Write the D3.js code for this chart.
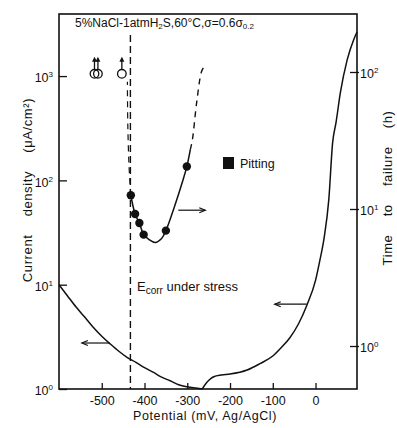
<!DOCTYPE html>
<html>
<head>
<meta charset="utf-8">
<script src="https://cdn.jsdelivr.net/npm/d3@7"></script>
<style>
  body { margin: 0; background: #fff; }
  text { font-family: "Liberation Sans", Arial, sans-serif; fill: #111; }
</style>
</head>
<body>
<div class="canvas"></div>
<script>
// cathodic branch, current density (left axis)
const cathodicPot = [-600, -580, -560, -540, -520, -500, -480, -460, -440, -420, -400, -380, -360, -340, -320, -300, -280, -265];
const cathodicCur = [10, 7.8, 6.1, 4.9, 3.9, 3.2, 2.7, 2.3, 2.0, 1.8, 1.6, 1.45, 1.3, 1.2, 1.1, 1.05, 1.02, 1.0];

// anodic branch, current density (left axis)
const anodicPot = [-265, -255, -245, -238, -220, -200, -160, -130, -100, -80, -60, -40, -20, 0, 10, 20, 31, 40, 48, 58, 74, 89, 97];
const anodicCur = [1.0, 1.15, 1.26, 1.31, 1.36, 1.39, 1.52, 1.75, 2.07, 2.5, 3.1, 4.2, 6.4, 11, 17, 28, 65, 230, 360, 690, 1430, 2220, 2650];

// time to failure, pitting (right axis)
const pitPot = [-432, -422, -412, -402, -350, -301];
const pitTTF = [12.6, 9.2, 7.9, 6.5, 6.95, 20.4];
const fitPot = [-432, -422, -412, -402, -390, -375, -360, -350, -330, -310, -301, -293];
const fitTTF = [12.6, 9.2, 7.9, 6.5, 6.0, 5.7, 6.1, 6.95, 10.4, 16.3, 20.4, 27];
const extHighPot = [-293, -288, -278, -267, -262];
const extHighTTF = [27, 32, 60, 100, 108];
const extLowPot = [-432, -436, -439, -440];
const extLowTTF = [12.6, 20, 40, 85];

// no failure (runouts)
const runoutPot = [-517, -509, -453];
const runoutTTF = [97, 97, 97];

const ecorr = -433;
const xTicks = [-500, -400, -300, -200, -100, 0];
const leftTicks = [1, 10, 100, 1000];
const rightTicks = [1, 10, 100];

const frame = { left: 59, right: 357, top: 14, bottom: 389 };

const svg = d3.select('.canvas')
  .append('svg')
  .attr('width', 397)
  .attr('height', 428);

const x = d3.scaleLinear().domain([-600, 97]).range([frame.left, frame.right]);
const yL = d3.scaleLog().domain([1, 3936]).range([frame.bottom, frame.top]);
const yR = d3.scaleLog().domain([0.4855, 265]).range([frame.bottom, frame.top]);

const zip = (a, b) => a.map((v, i) => [v, b[i]]);

// frame
svg.append('rect')
  .attr('x', frame.left)
  .attr('y', frame.top)
  .attr('width', frame.right - frame.left)
  .attr('height', frame.bottom - frame.top)
  .attr('fill', 'none')
  .attr('stroke', '#111')
  .attr('stroke-width', 1.6);

// superscript tick labels
const powLabel = (sel, size) => {
  sel.text(null);
  sel.append('tspan').text('10');
  sel.append('tspan')
    .attr('dy', -5)
    .attr('font-size', size)
    .text(d => Math.round(Math.log10(d)));
};

// axes
const xAxis = d3.axisBottom(x)
  .tickValues(xTicks)
  .tickFormat(d => String(d))
  .tickSize(-6)
  .tickPadding(7);
const xAxisGroup = svg.append('g')
  .attr('transform', `translate(0, ${frame.bottom})`)
  .call(xAxis);
xAxisGroup.selectAll('text')
  .attr('font-size', 12.5)
  .attr('font-family', '"Liberation Sans", Arial, sans-serif');

const yAxisL = d3.axisLeft(yL).tickValues(leftTicks).tickSize(-8).tickPadding(6);
const yAxisGroupL = svg.append('g')
  .attr('transform', `translate(${frame.left}, 0)`)
  .call(yAxisL);
yAxisGroupL.selectAll('text')
  .attr('font-size', 12.5)
  .attr('font-family', '"Liberation Sans", Arial, sans-serif')
  .attr('dy', '0.45em')
  .call(powLabel, 8);

const yAxisR = d3.axisRight(yR).tickValues(rightTicks).tickSize(-7).tickPadding(3);
const yAxisGroupR = svg.append('g')
  .attr('transform', `translate(${frame.right}, 0)`)
  .call(yAxisR);
yAxisGroupR.selectAll('text')
  .attr('font-size', 12.5)
  .attr('font-family', '"Liberation Sans", Arial, sans-serif')
  .attr('dy', '0.45em')
  .call(powLabel, 8);
yAxisGroupR.selectAll('.tick line').attr('x2', -7).attr('x1', 2);

[xAxisGroup, yAxisGroupL, yAxisGroupR].forEach(g => {
  g.select('.domain').remove();
  g.selectAll('.tick line').attr('stroke', '#111').attr('stroke-width', 1.3);
});

// curves
const lineL = d3.line().x(d => x(d[0])).y(d => yL(d[1])).curve(d3.curveMonotoneX);
const lineR = d3.line().x(d => x(d[0])).y(d => yR(d[1])).curve(d3.curveCatmullRom);

svg.append('path')
  .datum(zip(cathodicPot, cathodicCur))
  .attr('d', lineL)
  .attr('fill', 'none').attr('stroke', '#111').attr('stroke-width', 1.5);

svg.append('path')
  .datum(zip(anodicPot, anodicCur))
  .attr('d', lineL)
  .attr('fill', 'none').attr('stroke', '#111').attr('stroke-width', 1.5);

svg.append('path')
  .datum(zip(fitPot, fitTTF))
  .attr('d', lineR)
  .attr('fill', 'none').attr('stroke', '#111').attr('stroke-width', 1.5);

svg.append('path')
  .datum(zip(extHighPot, extHighTTF))
  .attr('d', lineR)
  .attr('fill', 'none').attr('stroke', '#111').attr('stroke-width', 1.4)
  .attr('stroke-dasharray', '6,5');

svg.append('path')
  .datum(zip(extLowPot, extLowTTF))
  .attr('d', lineR)
  .attr('fill', 'none').attr('stroke', '#111').attr('stroke-width', 1.2)
  .attr('stroke-dasharray', '6,5');

// Ecorr line
svg.append('line')
  .attr('x1', x(ecorr)).attr('x2', x(ecorr))
  .attr('y1', 35).attr('y2', frame.bottom)
  .attr('stroke', '#111').attr('stroke-width', 1.4)
  .attr('stroke-dasharray', '7,4');

// pitting points
svg.selectAll('circle.pit')
  .data(zip(pitPot, pitTTF))
  .enter()
  .append('circle')
    .attr('class', 'pit')
    .attr('cx', d => x(d[0]))
    .attr('cy', d => yR(d[1]))
    .attr('r', 4.2)
    .attr('fill', '#111');

// runouts with up arrows
const runouts = svg.selectAll('g.runout')
  .data(zip(runoutPot, runoutTTF))
  .enter()
  .append('g')
    .attr('class', 'runout')
    .attr('transform', d => `translate(${x(d[0])}, ${yR(d[1])})`);
runouts.append('circle')
  .attr('r', 4.3).attr('fill', 'none').attr('stroke', '#111').attr('stroke-width', 1.3);
runouts.append('line')
  .attr('y1', -4.3).attr('y2', -15)
  .attr('stroke', '#111').attr('stroke-width', 1.3);
runouts.append('path')
  .attr('d', 'M-2.5,-12 L0,-17 L2.5,-12 Z')
  .attr('fill', '#111');

// direction arrows
const arrows = [
  { px: x(-481), py: yL(2.76), dx: -28 },
  { px: x(-20.6), py: yL(6.5), dx: -32 },
  { px: x(-321), py: yR(9.8), dx: 27 }
];
arrows.forEach(a => {
  const s = Math.sign(a.dx);
  svg.append('line')
    .attr('x1', a.px).attr('x2', a.px + a.dx)
    .attr('y1', a.py).attr('y2', a.py)
    .attr('stroke', '#111').attr('stroke-width', 1.2);
  svg.append('path')
    .attr('d', `M${a.px + a.dx - s * 6},${a.py - 2.5} L${a.px + a.dx},${a.py} L${a.px + a.dx - s * 6},${a.py + 2.5}`)
    .attr('fill', 'none').attr('stroke', '#111').attr('stroke-width', 1.2);
});

// title
const title = svg.append('text')
  .attr('x', 75).attr('y', 27)
  .attr('font-size', 12);
title.append('tspan').text('5%NaCl-1atmH');
title.append('tspan').attr('font-size', 8).attr('dy', 2).text('2');
title.append('tspan').attr('dy', -2).text('S,60°C,σ=0.6σ');
title.append('tspan').attr('font-size', 8).attr('dy', 2).text('0.2');

// legend
svg.append('rect')
  .attr('x', 223).attr('y', 157).attr('width', 11).attr('height', 12)
  .attr('fill', '#111');
svg.append('text')
  .attr('x', 240).attr('y', 168)
  .attr('font-size', 12.5)
  .text('Pitting');

// Ecorr annotation
const ec = svg.append('text')
  .attr('x', 137).attr('y', 291)
  .attr('font-size', 13);
ec.append('tspan').text('E');
ec.append('tspan').attr('font-size', 10).attr('dy', 3).text('corr');
ec.append('tspan').attr('dy', -3).text(' under stress');

// axis labels
svg.append('text')
  .attr('x', 205).attr('y', 420)
  .attr('text-anchor', 'middle')
  .attr('font-size', 12.5)
  .attr('letter-spacing', 0.6)
  .text('Potential (mV, Ag/AgCl)');

svg.append('text')
  .attr('transform', 'translate(32, 190) rotate(-90)')
  .attr('text-anchor', 'middle')
  .attr('font-size', 13)
  .attr('word-spacing', 14)
  .attr('letter-spacing', 0.6)
  .text('Current density (μA/cm²)');

svg.append('text')
  .attr('transform', 'translate(392, 188) rotate(-90)')
  .attr('text-anchor', 'middle')
  .attr('font-size', 13)
  .attr('word-spacing', 14)
  .attr('letter-spacing', 0.6)
  .text('Time to failure (h)');
</script>
</body>
</html>
